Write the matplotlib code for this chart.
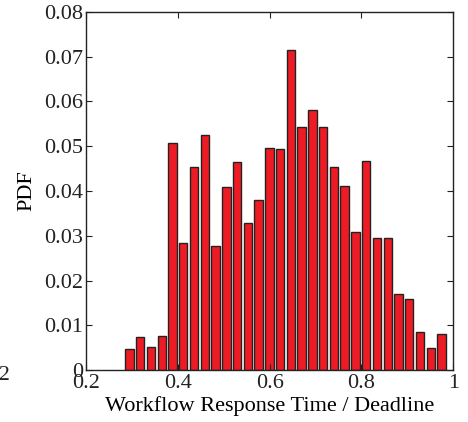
import numpy as np
import matplotlib
matplotlib.use("Agg")
import matplotlib.pyplot as plt

plt.rcParams['font.family'] = ['Liberation Serif', 'DejaVu Serif']

# Histogram data: 30 bins spanning the observed range
range_start = 0.283
range_end = 0.986
pdf_values = [0.0046, 0.0074, 0.0052, 0.0077, 0.0508, 0.0284, 0.0453, 0.0525,
              0.0278, 0.0410, 0.0464, 0.0329, 0.0380, 0.0497, 0.0493, 0.0716,
              0.0543, 0.0580, 0.0543, 0.0453, 0.0411, 0.0309, 0.0467, 0.0296,
              0.0294, 0.0169, 0.0159, 0.0085, 0.0050, 0.0081]
x_ticks = [0.2, 0.4, 0.6, 0.8, 1.0]
x_tick_labels = ['0.2', '0.4', '0.6', '0.8', '1']
y_ticks = [0, 0.01, 0.02, 0.03, 0.04, 0.05, 0.06, 0.07, 0.08]
y_tick_labels = ['0', '0.01', '0.02', '0.03', '0.04', '0.05', '0.06', '0.07', '0.08']

n = len(pdf_values)
edges = np.linspace(range_start, range_end, n + 1)
centers = (edges[:-1] + edges[1:]) / 2
binw = edges[1] - edges[0]

fig = plt.figure(figsize=(4.68, 4.22), dpi=100)
ax = fig.add_axes([0.1838, 0.1232, 0.7848, 0.8484])

ax.bar(centers, pdf_values, width=binw * 0.78, color='#ED1C24',
       edgecolor='#222222', linewidth=1.0)

ax.set_xlim(0.2, 1.0)
ax.set_ylim(0, 0.08)
ax.set_xticks(x_ticks)
ax.set_xticklabels(x_tick_labels)
ax.set_yticks(y_ticks)
ax.set_yticklabels(y_tick_labels)
ax.tick_params(direction='in', top=True, right=True, length=4, width=0.8,
               labelsize=16, pad=2, colors='#222222')
ax.tick_params(axis='x', pad=3)
for s in ax.spines.values():
    s.set_linewidth(1.0)
    s.set_color('#222222')

ax.set_xlabel('Workflow Response Time / Deadline', fontsize=16, labelpad=2)
ax.set_ylabel('PDF', fontsize=16, labelpad=6)

fig.text(10 / 468, 1 - 376 / 422, '0.2', fontsize=16, ha='right', va='center',
         color='#222222')

fig.savefig('out.png', dpi=100)
